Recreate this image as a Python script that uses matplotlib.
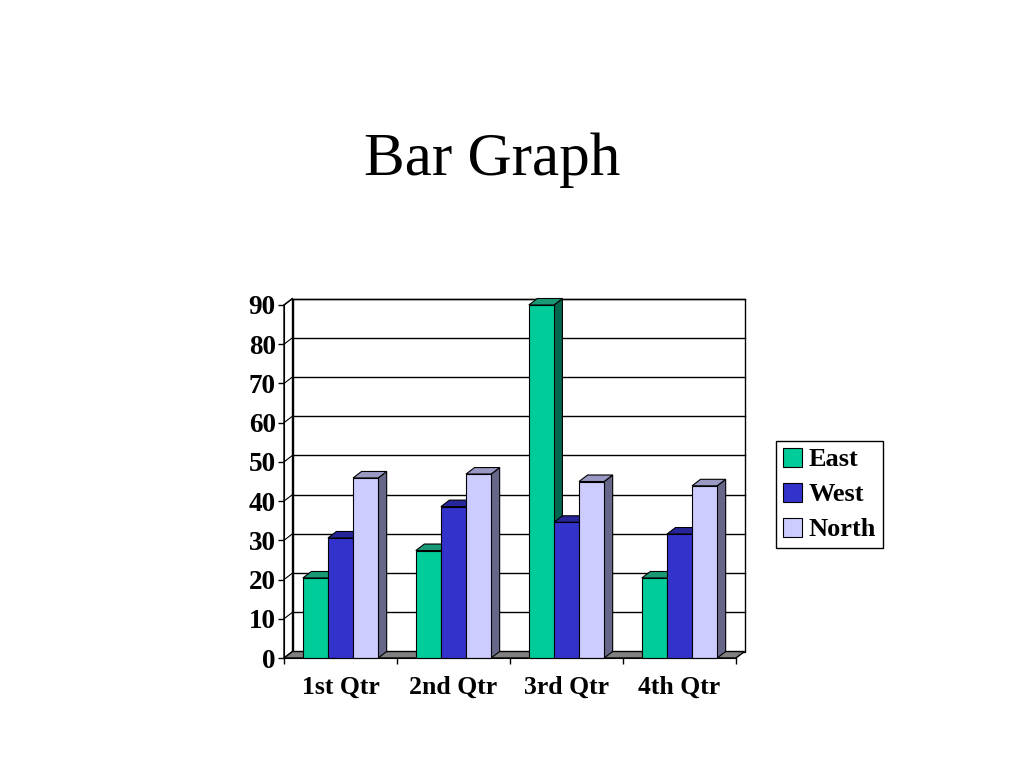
import matplotlib
matplotlib.use("Agg")
import matplotlib.pyplot as plt
from matplotlib.patches import Polygon, Patch

categories = ["1st Qtr", "2nd Qtr", "3rd Qtr", "4th Qtr"]
series = ["East", "West", "North"]
east = [20.4, 27.4, 90, 20.4]
west = [30.6, 38.6, 34.6, 31.6]
north = [45.9, 46.9, 45, 43.9]
values = [east, west, north]
y_ticks = list(range(0, 100, 10))

# front / top / side shades per series
front_cols = ["#00CC99", "#3333CC", "#CCCCFF"]
top_cols = ["#1A9977", "#26269A", "#9999C4"]
side_cols = ["#00664D", "#1A1A80", "#666688"]

plt.rcParams["font.family"] = ["Liberation Serif", "DejaVu Serif"]

fig = plt.figure(figsize=(10.24, 7.68), dpi=100)
W, H = 1024, 768
# plot area of the front axes in pixels
x_left, x_right, y_bot, y_top = 284, 736, 658, 305
ax = fig.add_axes([x_left / W, 1 - y_bot / H, (x_right - x_left) / W, (y_bot - y_top) / H])
ax.set_xlim(0, 4)
ax.set_ylim(0, 90)

# depth offset (pixels -> data units)
dx = 8.5 / ((x_right - x_left) / 4)
dy = 6.5 / ((y_bot - y_top) / 90)

# back wall + gridlines
ax.add_patch(Polygon([(dx, dy), (4 + dx, dy), (4 + dx, 90 + dy), (dx, 90 + dy)],
                     closed=True, fc="white", ec="black", lw=1, zorder=1, clip_on=False))
for v in y_ticks[1:]:
    ax.plot([dx, 4 + dx], [v + dy, v + dy], color="black", lw=1, zorder=1.5, clip_on=False)
    ax.plot([0, dx], [v, v + dy], color="black", lw=0.8, zorder=1.5, clip_on=False)
# left wall
ax.add_patch(Polygon([(0, 0), (dx, dy), (dx, 90 + dy), (0, 90)],
                     closed=True, fc="white", ec="black", lw=1, zorder=1.2, clip_on=False))
# floor
ax.add_patch(Polygon([(0, 0), (4, 0), (4 + dx, dy), (dx, dy)],
                     closed=True, fc="#808080", ec="black", lw=1, zorder=2, clip_on=False))

w = 1 / 4.5
for i in range(len(categories)):
    for j, vals in enumerate(values):
        h = vals[i]
        x0 = i + 0.5 - 1.5 * w + j * w
        x1 = x0 + w
        z = 3 + j * 0.1
        ax.add_patch(Polygon([(x1, 0), (x1 + dx, dy), (x1 + dx, h + dy), (x1, h)],
                             fc=side_cols[j], ec="black", lw=0.8, zorder=z, clip_on=False))
        ax.add_patch(Polygon([(x0, h), (x1, h), (x1 + dx, h + dy), (x0 + dx, h + dy)],
                             fc=top_cols[j], ec="black", lw=0.8, zorder=z, clip_on=False))
        ax.add_patch(Polygon([(x0, 0), (x1, 0), (x1, h), (x0, h)],
                             fc=front_cols[j], ec="black", lw=0.8, zorder=z + 0.05, clip_on=False))

for s in ["top", "right"]:
    ax.spines[s].set_visible(False)
ax.spines["left"].set_zorder(5)
ax.spines["bottom"].set_zorder(5)
ax.set_facecolor("none")

ax.set_yticks(y_ticks)
ax.set_yticklabels([str(v) for v in y_ticks], fontsize=19.5, fontweight="bold")
ax.tick_params(axis="y", direction="out", length=4, width=1, pad=2)
ax.set_xticks([0, 1, 2, 3, 4])
ax.set_xticklabels([])
ax.set_xticks([0.5, 1.5, 2.5, 3.5], minor=True)
ax.set_xticklabels(categories, minor=True, fontsize=18.5, fontweight="bold")
ax.tick_params(axis="x", which="major", direction="out", length=4, width=1)
ax.tick_params(axis="x", which="minor", length=0, pad=13)

fig.text(492 / W, 1 - 160 / H, "Bar Graph", fontsize=44, ha="center", va="center")

handles = [Patch(fc=c, ec="black", lw=0.8) for c in front_cols]
fig.legend(handles, series, loc="upper left", bbox_to_anchor=(776 / W, 1 - 441 / H),
           prop={"size": 19, "weight": "bold"}, frameon=True, fancybox=False,
           edgecolor="black", framealpha=1, borderpad=0.25, handlelength=0.75,
           handleheight=0.75, handletextpad=0.25, labelspacing=0.42, borderaxespad=0)

plt.savefig("out.png", dpi=100)
plt.close()
